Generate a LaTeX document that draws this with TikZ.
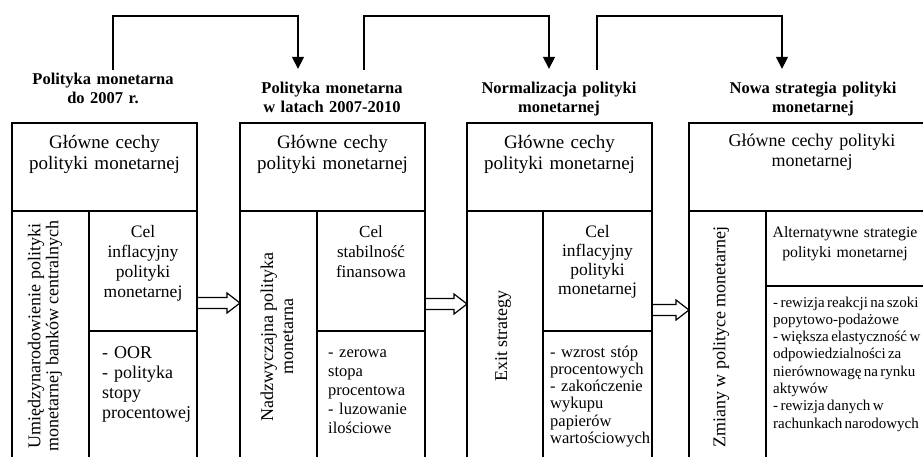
\documentclass[tikz,border=0pt]{standalone}
\usepackage{fontspec}
\setmainfont{Liberation Serif}
\usetikzlibrary{arrows.meta,calc}
\tikzset{
 cell/.style={draw, line width=1.4pt, rectangle, inner sep=0pt, outer sep=0pt, anchor=north west},
 ttl/.style={font=\bfseries\fontsize{16.5}{19}\selectfont, text width=180pt, align=center, inner sep=0pt, anchor=base},
 hdr/.style={font=\fontsize{19}{21}\selectfont, text width=180pt, align=center, inner sep=0pt, anchor=base},
 celtxt/.style={font=\fontsize{17.5}{20}\selectfont, text width=108pt, align=center, inner sep=0pt, anchor=base},
 lst/.style={align=left, inner sep=0pt, anchor=base west},
 rot/.style={rotate=90, align=center, inner sep=0pt, font=\fontsize{18}{18}\selectfont},
 conn/.style={line width=1.4pt, -{Triangle[width=12pt,length=12pt]}},
 barrow/.style={line width=1.2pt, line join=miter},
}
\newcommand\blockarr[3]{%
 \draw[barrow] (#1.east |- 0,#3-5.5) -- ($(#2.west |- 0,#3-5.5)+(-13,0)$) -- ++(0,-4.5) -- (#2.west |- 0,#3) -- ($(#2.west |- 0,#3+10)+(-13,0)$) -- ++(0,-4.5) -- (#1.east |- 0,#3+5.5);}
\begin{document}
\begin{tikzpicture}[x=1pt,y=-1pt]
\useasboundingbox (0,0) rectangle (923,457);
\clip (0,0) rectangle (923,457);
\fill[white] (0,0) rectangle (923,457);
% Box 1
\node[cell, minimum width=185pt, minimum height=88pt] (h1) at (12,123) {};
\node[cell, minimum width=77pt, minimum height=259pt] (l1) at (12,211) {};
\node[cell, minimum width=108pt, minimum height=120pt] (r1) at (89,211) {};
\node[cell, minimum width=108pt, minimum height=139pt] (s1) at (89,331) {};
% Box 2
\node[cell, minimum width=185pt, minimum height=88pt] (h2) at (240,123) {};
\node[cell, minimum width=77pt, minimum height=259pt] (l2) at (240,211) {};
\node[cell, minimum width=108pt, minimum height=120pt] (r2) at (317,211) {};
\node[cell, minimum width=108pt, minimum height=139pt] (s2) at (317,331) {};
% Box 3
\node[cell, minimum width=185pt, minimum height=88pt] (h3) at (467,123) {};
\node[cell, minimum width=76pt, minimum height=259pt] (l3) at (467,211) {};
\node[cell, minimum width=109pt, minimum height=120pt] (r3) at (543,211) {};
\node[cell, minimum width=109pt, minimum height=139pt] (s3) at (543,331) {};
% Box 4
\node[cell, minimum width=246pt, minimum height=88pt] (h4) at (689,123) {};
\node[cell, minimum width=77pt, minimum height=259pt] (l4) at (689,211) {};
\node[cell, minimum width=169pt, minimum height=75pt] (r4) at (766,211) {};
\node[cell, minimum width=169pt, minimum height=184pt] (s4) at (766,286) {};
% Titles
\node[ttl] (t1) at (103,85) {Polityka monetarna\\do 2007 r.};
\node[ttl] (t2) at (332,94) {Polityka monetarna\\w latach 2007-2010};
\node[ttl] (t3) at (559,94) {Normalizacja polityki\\monetarnej};
\node[ttl] (t4) at (813,94) {Nowa strategia polityki\\monetarnej};
% Headers
\node[hdr] (g1) at (h1.north |- 0,149) {Główne cechy\\polityki monetarnej};
\node[hdr] (g2) at (h2.north |- 0,149) {Główne cechy\\polityki monetarnej};
\node[hdr] (g3) at (h3.north |- 0,149) {Główne cechy\\polityki monetarnej};
\node[hdr, font=\fontsize{18}{20}\selectfont, text width=240pt] (g4) at (812,147) {Główne cechy polityki\\monetarnej};
% Goal cells
\node[celtxt] (c1) at (r1.north |- 0,237) {Cel\\inflacyjny\\polityki\\monetarnej};
\node[celtxt, font=\fontsize{17}{20}\selectfont] (c2) at (r2.north |- 0,237) {Cel\\stabilność\\finansowa};
\node[celtxt, font=\fontsize{17.5}{19.3}\selectfont] (c3) at (r3.north |- 0,237) {Cel\\inflacyjny\\polityki\\monetarnej};
\node[celtxt, font=\fontsize{15.8}{20}\selectfont, text width=170pt] (c4) at (845,237) {Alternatywne strategie\\polityki monetarnej};
% Lists
\node[lst, font=\fontsize{18}{20}\selectfont, text width=95pt] (d1) at (102,358) {- OOR\\- polityka\\stopy\\procentowej};
\node[lst, font=\fontsize{16.5}{19}\selectfont, text width=95pt] (d2) at (328,357) {- zerowa\\stopa\\procentowa\\- luzowanie\\ilościowe};
\node[lst, font=\fontsize{16.5}{17.3}\selectfont, text width=100pt] (d3) at (550,357) {- wzrost stóp\\procentowych\\- zakończenie\\wykupu\\papierów\\wartościowych};
\node[lst, font=\fontsize{15}{17.3}\selectfont, text width=180pt] (d4) at (773,307) {\spaceskip=2.4pt - rewizja reakcji na szoki\\popytowo-podażowe\\- większa elastyczność w\\odpowiedzialności za\\nierównowagę na rynku\\aktywów\\- rewizja danych w\\rachunkach narodowych};
% Rotated
\node[rot] (v1) at (45,336) {Umiędzynarodowienie polityki\\monetarnej banków centralnych};
\node[rot, font=\fontsize{18}{20}\selectfont] (v2) at (277,337) {Nadzwyczajna polityka\\monetarna};
\node[rot] (v3) at (503,336) {Exit strategy};
\node[rot] (v4) at (721,337) {Zmiany w polityce monetarnej};
% Block arrows
\blockarr{r1}{l2}{303}
\blockarr{r2}{l3}{304}
\blockarr{r3}{l4}{310}
% Top connectors
\coordinate (lane) at (0,16);
\coordinate (e1) at ([xshift=-34pt]t2.north);
\coordinate (e2) at ([xshift=-10pt]t3.north);
\coordinate (e3) at ([xshift=-31pt]t4.north);
\coordinate (b1) at ([xshift=10pt]t1.north);
\coordinate (b2) at ([xshift=32pt]t2.north);
\coordinate (b3) at ([xshift=38pt]t3.north);
\draw[conn, shorten <=3.5pt, shorten >=13.5pt] (b1) |- (e1 |- lane) -- (e1);
\draw[conn, shorten <=12.5pt, shorten >=13.5pt] (b2) |- (e2 |- lane) -- (e2);
\draw[conn, shorten <=12.5pt, shorten >=13.5pt] (b3) |- (e3 |- lane) -- (e3);
\end{tikzpicture}
\end{document}
